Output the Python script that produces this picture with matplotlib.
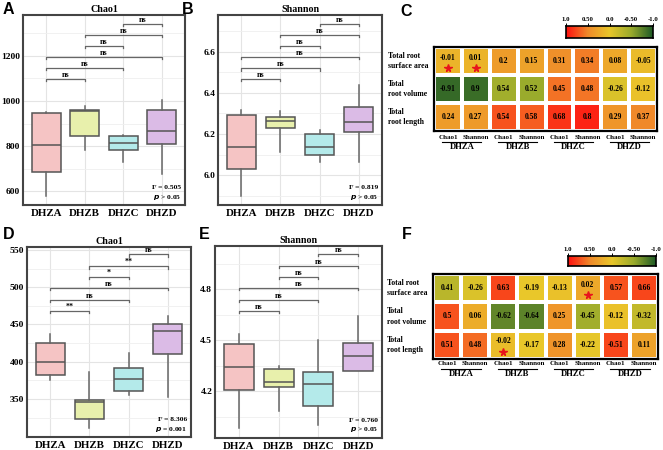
import numpy as np
import matplotlib
matplotlib.use('Agg')
import matplotlib.pyplot as plt
from matplotlib.colors import LinearSegmentedColormap

plt.rcParams['font.family'] = 'Liberation Serif'
plt.rcParams['font.weight'] = 'bold'

groups = ['DHZA', 'DHZB', 'DHZC', 'DHZD']
box_colors = ['#f5c4c4', '#e8f0ac', '#b4eaea', '#dbbbe6']

# box stats per group: (low whisker, q1, median, q3, high whisker)
chao1_A = [(578, 684, 804, 947, 950), (782, 845, 955, 960, 978),
           (729, 782, 813, 845, 849), (676, 809, 867, 960, 1004)]
shannon_B = [(5.898, 6.03, 6.137, 6.293, 6.317), (6.112, 6.229, 6.263, 6.283, 6.312),
             (6.063, 6.10, 6.137, 6.20, 6.22), (6.063, 6.21, 6.258, 6.33, 6.44)]
chao1_D = [(375, 382, 399, 425, 437), (311, 323, 346, 349, 386),
           (355, 361, 377, 392, 412), (353, 410, 441, 450, 461)]
shannon_E = [(3.982, 4.206, 4.341, 4.476, 4.535), (4.082, 4.224, 4.253, 4.329, 4.347),
             (4.0, 4.112, 4.241, 4.312, 4.50), (4.318, 4.318, 4.406, 4.482, 4.641)]

pairs = [(1, 2), (1, 3), (1, 4), (2, 3), (2, 4), (3, 4)]
brk_A = [1098, 1147, 1196, 1244, 1293, 1342]
brk_B = [6.468, 6.52, 6.576, 6.63, 6.683, 6.737]
brk_D = [468, 483, 499, 514, 528, 544]
brk_E = [4.671, 4.735, 4.806, 4.871, 4.935, 5.006]
sig_A = ['ns'] * 6
sig_B = ['ns'] * 6
sig_D = ['**', 'ns', 'ns', '*', '**', 'ns']
sig_E = ['ns'] * 6

stat_A = ('0.505', '> 0.05')
stat_B = ('0.819', '> 0.05')
stat_D = ('8.306', '= 0.001')
stat_E = ('0.760', '> 0.05')

rows = ['Total root\nsurface area', 'Total\nroot volume', 'Total\nroot length']
cols = ['Chao1', 'Shannon'] * 4

c_vals = [[-0.01, 0.01, 0.2, 0.15, 0.31, 0.34, 0.08, -0.05],
          [-0.91, 0.9, 0.54, 0.52, 0.45, 0.48, -0.26, -0.12],
          [0.24, 0.27, 0.54, 0.58, 0.68, 0.8, 0.29, 0.37]]
# colour shade as it appears in the figure (on the -1..1 scale)
c_shade = [[0.15, 0.15, 0.35, 0.3, 0.45, 0.55, 0.25, 0.1],
           [-0.9, -0.88, -0.45, -0.5, 0.6, 0.58, -0.1, 0.05],
           [0.35, 0.37, 0.72, 0.68, 0.85, 0.92, 0.4, 0.5]]
c_stars = [(0, 0), (0, 1)]

f_vals = [[0.41, -0.26, 0.63, -0.19, -0.13, 0.02, 0.57, 0.66],
          [0.5, 0.06, -0.62, -0.64, 0.25, -0.45, -0.12, -0.32],
          [0.51, 0.48, -0.02, -0.17, 0.28, -0.22, -0.51, 0.11]]
f_shade = [[-0.3, -0.1, 0.78, 0.0, 0.05, 0.25, 0.72, 0.78],
           [0.72, 0.22, -0.72, -0.75, 0.4, -0.45, 0.05, -0.25],
           [0.72, 0.62, 0.08, 0.0, 0.42, -0.02, 0.78, 0.3]]
f_stars = [(0, 5), (2, 2)]

cbar_ticks = [1.0, 0.5, 0.0, -0.5, -1.0]
cbar_labels = ['1.0', '0.50', '0.0', '-0.50', '-1.0']

cmap = LinearSegmentedColormap.from_list(
    'rg', [(0.0, '#1d5a26'), (0.25, '#9aab2c'), (0.5, '#e9c72a'),
           (0.75, '#f08a2a'), (1.0, '#ff1010')])

W, H = 663, 450
fig = plt.figure(figsize=(6.63, 4.5), dpi=100)


def px_axes(x0, y0, x1, y1):
    return fig.add_axes([x0 / W, 1 - y1 / H, (x1 - x0) / W, (y1 - y0) / H])


def box_panel(rect, stats, ylim, yticks, title, brk, sig, stat):
    ax = px_axes(*rect)
    bxp_stats = []
    for lo, q1, med, q3, hi in stats:
        bxp_stats.append(dict(whislo=lo, q1=q1, med=med, q3=q3, whishi=hi, fliers=[]))
    bp = ax.bxp(bxp_stats, positions=[1, 2, 3, 4], widths=0.75, patch_artist=True,
                showcaps=False,
                medianprops=dict(color='#555555', lw=1.1),
                whiskerprops=dict(color='#666666', lw=1.1),
                boxprops=dict(edgecolor='#555555', lw=1.1))
    for patch, c in zip(bp['boxes'], box_colors):
        patch.set_facecolor(c)
    step = yticks[1] - yticks[0]
    ax.set_yticks(yticks)
    ax.set_yticks([t + step / 2 for t in yticks] + [yticks[0] - step / 2], minor=True)
    ax.set_xlim(0.4, 4.6)
    ax.set_ylim(*ylim)
    ax.set_xticks([1, 2, 3, 4])
    ax.set_xticklabels(groups, fontsize=7.8)
    ax.tick_params(axis='y', labelsize=6.8, length=0, pad=2)
    ax.tick_params(axis='x', length=0, pad=3)
    ax.tick_params(which='minor', length=0)
    ax.grid(True, which='major', color='#e4e4e4', lw=0.8)
    ax.grid(True, which='minor', axis='y', color='#efefef', lw=0.6)
    ax.set_axisbelow(True)
    for s in ax.spines.values():
        s.set_color('#444444')
        s.set_linewidth(1.5)
    ax.set_title(title, fontsize=7.2, pad=2, fontweight='bold')
    drop = (ylim[1] - ylim[0]) * 0.012
    for (a, b), y, s in zip(pairs, brk, sig):
        ax.plot([a, a, b, b], [y - drop, y, y, y - drop], color='#666666', lw=0.9)
        ax.text((a + b) / 2, y + drop * 0.1, s, ha='center', va='bottom', fontsize=5.8)
    ax.text(0.975, 0.09, 'F = ' + stat[0], transform=ax.transAxes, ha='right',
            va='center', fontsize=5.4)
    ax.text(0.975, 0.042, r'$\mathit{p}$ ' + stat[1], transform=ax.transAxes, ha='right',
            va='center', fontsize=5.4)
    return ax


box_panel((23, 15, 185, 205), chao1_A, (538, 1382), [600, 800, 1000, 1200],
          'Chao1', brk_A, sig_A, stat_A)
box_panel((218, 15, 382, 205), shannon_B, (5.854, 6.78), [6.0, 6.2, 6.4, 6.6],
          'Shannon', brk_B, sig_B, stat_B)
box_panel((27, 247, 191, 437), chao1_D, (299, 554), [350, 400, 450, 500, 550],
          'Chao1', brk_D, sig_D, stat_D)
box_panel((215, 246, 382, 438), shannon_E, (3.924, 5.053), [4.2, 4.5, 4.8],
          'Shannon', brk_E, sig_E, stat_E)


def heat_panel(rect, cbar_rect, vals, shade, stars, lab_y):
    ax = px_axes(*rect)
    ax.pcolormesh(np.array(shade), cmap=cmap, vmin=-1, vmax=1,
                  edgecolors='white', linewidth=1.6)
    ax.set_xlim(0, 8)
    ax.set_ylim(3, 0)
    ax.set_xticks([])
    ax.set_yticks([])
    for s in ax.spines.values():
        s.set_color('black')
        s.set_linewidth(1.6)
    star_set = set(stars)
    for (i, j), v in np.ndenumerate(np.array(vals)):
        dy = -0.12 if (i, j) in star_set else 0
        ax.text(j + 0.5, i + 0.5 + dy, '%g' % v, ha='center', va='center', fontsize=5.5)
        if (i, j) in star_set:
            ax.plot(j + 0.5, i + 0.74, marker='*', color='#e8141c', ms=5.5, mec='#e8141c')
    for i, r in enumerate(rows):
        ax.text(-0.205, 1 - (i + 0.5) / 3, r, transform=ax.transAxes, ha='left',
                va='center', fontsize=5.6, linespacing=1.35)
    for j, c in enumerate(cols):
        ax.text((j + 0.5) / 8, lab_y[0], c, transform=ax.transAxes, ha='center',
                va='center', fontsize=5)
    for g, name in enumerate(groups):
        x0 = (2 * g + 0.3) / 8
        x1 = (2 * g + 1.7) / 8
        ax.plot([x0, x1], [lab_y[1], lab_y[1]], transform=ax.transAxes, color='black',
                lw=0.8, clip_on=False)
        ax.text((2 * g + 1) / 8, lab_y[2], name, transform=ax.transAxes, ha='center',
                va='center', fontsize=6.2)

    cax = px_axes(*cbar_rect)
    cax.imshow(np.linspace(1, -1, 256)[None, :], aspect='auto', cmap=cmap, vmin=-1,
               vmax=1, extent=(1, -1, 0, 1))
    cax.set_xlim(1, -1)
    cax.set_yticks([])
    cax.xaxis.tick_top()
    cax.set_xticks(cbar_ticks)
    cax.set_xticklabels(cbar_labels, fontsize=4.9)
    cax.tick_params(axis='x', length=2, width=0.7, pad=1)
    for s in cax.spines.values():
        s.set_linewidth(1.2)


heat_panel((434, 47, 657, 131), (566, 26, 653, 38), c_vals, c_shade, c_stars,
           (-0.075, -0.135, -0.19))
heat_panel((433, 274, 658, 359), (568, 256, 656, 266), f_vals, f_shade, f_stars,
           (-0.055, -0.115, -0.175))

for letter, x, y in [('A', 3, 2), ('B', 182, 2), ('C', 400, 4),
                     ('D', 3, 227), ('E', 199, 227), ('F', 402, 227)]:
    fig.text(x / W, 1 - y / H, letter, ha='left', va='top', fontsize=11.5,
             fontweight='bold', family='Liberation Sans')

fig.savefig('out.png', dpi=100)
